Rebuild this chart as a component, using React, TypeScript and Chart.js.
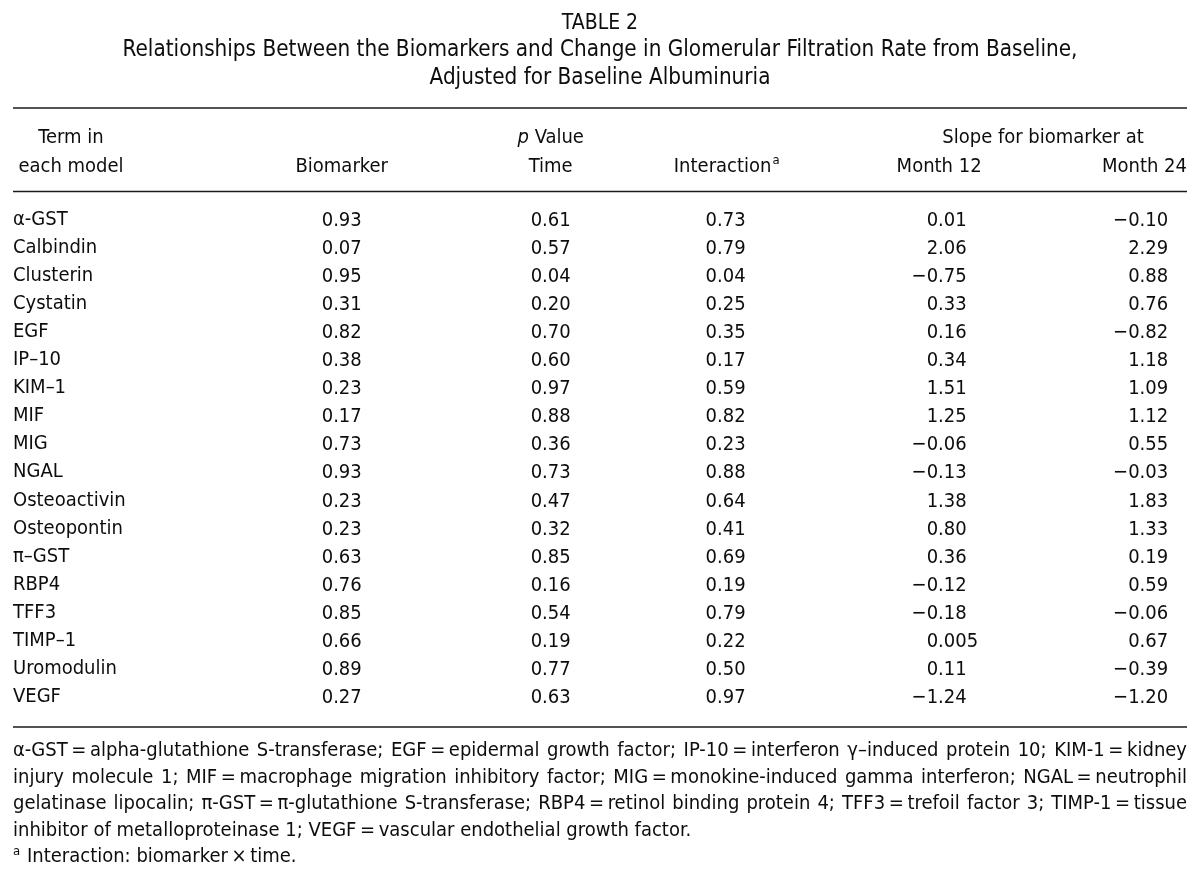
import React, { useEffect, useRef } from "react";
import { Chart, registerables } from "chart.js";

Chart.register(...registerables);

// ---------- data ----------
const TERMS = [
  "α-GST", "Calbindin", "Clusterin", "Cystatin", "EGF", "IP–10", "KIM–1", "MIF", "MIG",
  "NGAL", "Osteoactivin", "Osteopontin", "π–GST", "RBP4", "TFF3", "TIMP–1", "Uromodulin", "VEGF",
];
const P_BIOMARKER = [0.93, 0.07, 0.95, 0.31, 0.82, 0.38, 0.23, 0.17, 0.73, 0.93, 0.23, 0.23, 0.63, 0.76, 0.85, 0.66, 0.89, 0.27];
const P_TIME = [0.61, 0.57, 0.04, 0.20, 0.70, 0.60, 0.97, 0.88, 0.36, 0.73, 0.47, 0.32, 0.85, 0.16, 0.54, 0.19, 0.77, 0.63];
const P_INTERACTION = [0.73, 0.79, 0.04, 0.25, 0.35, 0.17, 0.59, 0.82, 0.23, 0.88, 0.64, 0.41, 0.69, 0.19, 0.79, 0.22, 0.50, 0.97];
const SLOPE_M12 = [0.01, 2.06, -0.75, 0.33, 0.16, 0.34, 1.51, 1.25, -0.06, -0.13, 1.38, 0.80, 0.36, -0.12, -0.18, 0.005, 0.11, -1.24];
const SLOPE_M24 = [-0.10, 2.29, 0.88, 0.76, -0.82, 1.18, 1.09, 1.12, 0.55, -0.03, 1.83, 1.33, 0.19, 0.59, -0.06, 0.67, -0.39, -1.20];

const COLUMN_LABELS = ["Biomarker", "Time", "Interaction", "Month 12", "Month 24"];
const TITLE_LINES = [
  "TABLE 2",
  "Relationships Between the Biomarkers and Change in Glomerular Filtration Rate from Baseline,",
  "Adjusted for Baseline Albuminuria",
];
const FOOTNOTE_LINES = [
  "α-GST\u2009=\u2009alpha-glutathione S-transferase; EGF\u2009=\u2009epidermal growth factor; IP-10\u2009=\u2009interferon γ–induced protein 10; KIM-1\u2009=\u2009kidney",
  "injury molecule 1; MIF\u2009=\u2009macrophage migration inhibitory factor; MIG\u2009=\u2009monokine-induced gamma interferon; NGAL\u2009=\u2009neutrophil",
  "gelatinase lipocalin; π-GST\u2009=\u2009π-glutathione S-transferase; RBP4\u2009=\u2009retinol binding protein 4; TFF3\u2009=\u2009trefoil factor 3; TIMP-1\u2009=\u2009tissue",
  "inhibitor of metalloproteinase 1; VEGF\u2009=\u2009vascular endothelial growth factor.",
];
const FOOTNOTE_A = "Interaction: biomarker\u2009×\u2009time.";

// ---------- formatting / layout ----------
const FONT_FAMILY = '"DejaVu Sans Condensed", "DejaVu Sans", sans-serif';
const INK = "#0d0d0d";

const fmtP = (v: number) => v.toFixed(2);
const fmtSlope = (v: number) => {
  const s = v !== 0 && Math.abs(v) < 0.01 ? v.toFixed(3) : v.toFixed(2);
  return s.replace("-", "−");
};

// column anchors on the (hidden) x scale, 0..100 across the table width
const COLUMNS = [
  { values: P_BIOMARKER, pos: 28.0, align: "center", fmt: fmtP },
  { values: P_TIME, pos: 45.8, align: "center", fmt: fmtP },
  { values: P_INTERACTION, pos: 60.7, align: "center", fmt: fmtP },
  { values: SLOPE_M12, pos: 78.8, align: "decimal", fmt: fmtSlope },
  { values: SLOPE_M24, pos: 98.4, align: "right", fmt: fmtSlope },
];

export default function App() {
  const ref = useRef<HTMLCanvasElement>(null);

  useEffect(() => {
    document.body.style.margin = "0";
    const canvas = ref.current;
    if (!canvas) return;

    const font = (size: number, style = "") => `${style} ${size}px ${FONT_FAMILY}`.trim();

    const tablePlugin = {
      id: "tableText",
      afterDraw(chart: any) {
        const ctx: CanvasRenderingContext2D = chart.ctx;
        const area = chart.chartArea;
        const xs = chart.scales.x;
        const L = area.left;
        const R = area.right;
        const C = (L + R) / 2;
        ctx.save();
        ctx.fillStyle = INK;
        ctx.strokeStyle = "#1a1a1a";
        ctx.textBaseline = "alphabetic";

        // title
        ctx.textAlign = "center";
        const titleBase = [29, 56, 84];
        const titleSize = [21, 22.3, 22.3];
        TITLE_LINES.forEach((t, i) => {
          ctx.font = font(titleSize[i]);
          ctx.fillText(t, C, titleBase[i]);
        });

        // rules
        const rule = (y: number) => {
          ctx.beginPath();
          ctx.lineWidth = 1.5;
          ctx.moveTo(L, y);
          ctx.lineTo(R, y);
          ctx.stroke();
        };
        rule(108);
        rule(191.5);
        rule(area.bottom + 16);

        // header
        const h1 = 143;
        const h2 = 172;
        ctx.font = font(20);
        ctx.textAlign = "center";
        ctx.fillText("Term in", L + 58, h1);
        ctx.fillText("each model", L + 58, h2);
        const colX = COLUMNS.map((c) => xs.getPixelForValue(c.pos));
        ctx.fillText(COLUMN_LABELS[0], colX[0], h2);
        // p Value
        ctx.font = font(20, "italic");
        const pW = ctx.measureText("p").width;
        ctx.font = font(20);
        const vW = ctx.measureText(" Value").width;
        const pStart = colX[1] - (pW + vW) / 2;
        ctx.textAlign = "left";
        ctx.font = font(20, "italic");
        ctx.fillText("p", pStart, h1);
        ctx.font = font(20);
        ctx.fillText(" Value", pStart + pW, h1);
        ctx.textAlign = "center";
        ctx.fillText(COLUMN_LABELS[1], colX[1], h2);
        // Interaction + superscript
        const iW = ctx.measureText(COLUMN_LABELS[2]).width;
        const iStart = colX[2] - 3 - iW / 2;
        ctx.textAlign = "left";
        ctx.fillText(COLUMN_LABELS[2], iStart, h2);
        ctx.font = font(13);
        ctx.fillText("a", iStart + iW + 1, h2 - 8);
        ctx.font = font(20);
        // slope group
        ctx.textAlign = "center";
        ctx.fillText("Slope for biomarker at", 1043, h1);
        ctx.fillText(COLUMN_LABELS[3], colX[3] + 1, h2);
        ctx.textAlign = "right";
        ctx.fillText(COLUMN_LABELS[4], R, h2);

        // cells, positioned by the chart's own scales via dataset elements
        ctx.font = font(20);
        ctx.textBaseline = "middle";
        chart.data.datasets.forEach((ds: any, di: number) => {
          const col = COLUMNS[di];
          const meta = chart.getDatasetMeta(di);
          meta.data.forEach((el: any, ri: number) => {
            const txt = col.fmt(col.values[ri]);
            const x = el.x;
            const y = el.y + 1;
            if (col.align === "decimal") {
              const k = txt.indexOf(".");
              ctx.textAlign = "right";
              ctx.fillText(txt.slice(0, k), x, y);
              ctx.textAlign = "left";
              ctx.fillText(txt.slice(k), x, y);
            } else {
              ctx.textAlign = col.align as CanvasTextAlign;
              ctx.fillText(txt, x, y);
            }
          });
        });

        // footnotes
        ctx.textBaseline = "alphabetic";
        ctx.font = font(20);
        const fBase = area.bottom + 45;
        const fStep = 26.5;
        FOOTNOTE_LINES.forEach((line, i) => {
          const y = fBase + i * fStep;
          if (i < 3) {
            const words = line.split(" ");
            const widths = words.map((w) => ctx.measureText(w).width);
            const total = widths.reduce((a, b) => a + b, 0);
            const gap = (R - L - total) / (words.length - 1);
            let x = L;
            ctx.textAlign = "left";
            words.forEach((w, k) => {
              ctx.fillText(w, x, y);
              x += widths[k] + gap;
            });
          } else {
            ctx.textAlign = "left";
            ctx.fillText(line, L, y);
          }
        });
        const y5 = fBase + 4 * fStep;
        ctx.font = font(13);
        ctx.textAlign = "left";
        ctx.fillText("a", L, y5 - 7);
        ctx.font = font(20);
        ctx.fillText(FOOTNOTE_A, L + 14, y5);
        ctx.restore();
      },
    };

    const chart = new Chart(canvas, {
      type: "scatter",
      data: {
        datasets: COLUMNS.map((c, ci) => ({
          label: COLUMN_LABELS[ci],
          data: c.values.map((_, i) => ({ x: c.pos, y: TERMS[i] as any })),
          pointRadius: 0,
          pointHoverRadius: 0,
          showLine: false,
        })),
      },
      options: {
        responsive: false,
        devicePixelRatio: 1,
        animation: false,
        events: [],
        layout: { padding: { left: 13, right: 13, top: 205.5, bottom: 173 } },
        plugins: { legend: { display: false }, title: { display: false }, tooltip: { enabled: false } },
        scales: {
          x: { type: "linear", min: 0, max: 100, display: false },
          y: {
            type: "category",
            labels: TERMS,
            offset: true,
            position: "left",
            grid: { display: false, drawTicks: false },
            border: { display: false },
            afterFit: (scale: any) => {
              scale.width = 0;
            },
            ticks: {
              autoSkip: false,
              mirror: true,
              padding: 0,
              color: INK,
              font: { family: FONT_FAMILY, size: 20 },
            },
          },
        },
      },
      plugins: [tablePlugin],
    });
    return () => chart.destroy();
  }, []);

  return <canvas ref={ref} width={1200} height={884} style={{ display: "block" }} />;
}
